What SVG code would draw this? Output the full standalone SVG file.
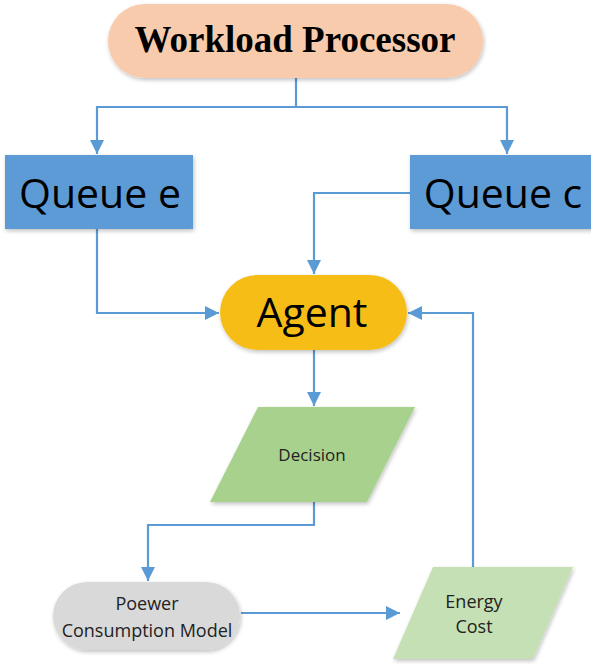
<svg xmlns="http://www.w3.org/2000/svg" width="591" height="664" viewBox="0 0 591 664">
<defs>
<style>
.conn{fill:none;stroke:#5B9BD5;stroke-width:2.2}
.sans{font-family:"Open Sans","Noto Sans","Liberation Sans",sans-serif;fill:#000;text-anchor:middle}
.small{fill:#222}
.serif{font-family:"Liberation Serif","Times New Roman",serif;font-weight:bold;fill:#000;text-anchor:middle}
</style>
<marker id="arr" viewBox="0 0 14 14" refX="14" refY="7" markerWidth="14" markerHeight="14" markerUnits="userSpaceOnUse" orient="auto">
<path d="M0,0 L14,7 L0,14 Z" fill="#5B9BD5"/>
</marker>
<filter id="sh" x="-10%" y="-10%" width="130%" height="140%">
<feGaussianBlur in="SourceAlpha" stdDeviation="2"/>
<feOffset dx="1" dy="2" result="b"/>
<feComponentTransfer><feFuncA type="linear" slope="0.25"/></feComponentTransfer>
<feMerge><feMergeNode/><feMergeNode in="SourceGraphic"/></feMerge>
</filter>
</defs>
<rect width="591" height="664" fill="#fff"/>
<g id="connectors">
<path class="conn" d="M296,78 V107 H97 V154" marker-end="url(#arr)"/>
<path class="conn" d="M296,107 H507 V154" marker-end="url(#arr)"/>
<path class="conn" d="M97,229 V313 H219" marker-end="url(#arr)"/>
<path class="conn" d="M410,193 H314 V274" marker-end="url(#arr)"/>
<path class="conn" d="M314,350 V406" marker-end="url(#arr)"/>
<path class="conn" d="M314,502 V525 H148 V581" marker-end="url(#arr)"/>
<path class="conn" d="M241,613 H400" marker-end="url(#arr)"/>
<path class="conn" d="M473,567 V313 H408" marker-end="url(#arr)"/>
</g>
<g id="workload">
<rect x="108" y="4" width="375" height="74" rx="37" fill="#F8CBAD" filter="url(#sh)"/>
<text class="serif" x="295" y="52" font-size="37">Workload Processor</text>
</g>
<g id="queue-e">
<rect x="5" y="155" width="188" height="74" fill="#5B9BD5" filter="url(#sh)"/>
<text class="sans" x="100" y="208" font-size="41">Queue e</text>
</g>
<g id="queue-c">
<rect x="410" y="155" width="190" height="74" fill="#5B9BD5" filter="url(#sh)"/>
<text class="sans" x="503" y="208" font-size="41">Queue c</text>
</g>
<g id="agent">
<rect x="220" y="275" width="187" height="75" rx="37.5" fill="#F6BD16" filter="url(#sh)"/>
<text class="sans" x="312" y="327" font-size="41">Agent</text>
</g>
<g id="decision">
<polygon points="258,407 415,407 367,502 210,502" fill="#A9D18E" filter="url(#sh)"/>
<text class="sans small" x="312" y="461" font-size="17">Decision</text>
</g>
<g id="power">
<rect x="53" y="582" width="187" height="68" rx="34" fill="#D9D9D9" filter="url(#sh)"/>
<text class="sans small" x="147" y="610" font-size="18">Poewer</text>
<text class="sans small" x="147" y="637" font-size="18">Consumption Model</text>
</g>
<g id="energy">
<polygon points="433,567 573,567 533,659 393,659" fill="#C5E0B4" filter="url(#sh)"/>
<text class="sans small" x="474" y="608" font-size="18">Energy</text>
<text class="sans small" x="474" y="633" font-size="18">Cost</text>
</g>
</svg>
